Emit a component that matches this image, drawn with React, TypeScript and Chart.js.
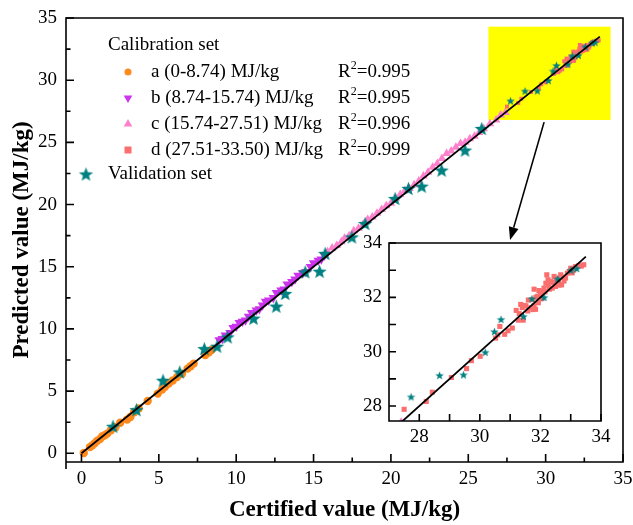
import React, { useEffect, useRef } from 'react';
import { Chart, registerables } from 'chart.js';
Chart.register(...registerables);

const FONT = '"Liberation Serif", "Times New Roman", serif';

// ---- Data ----
const aX = [0.15, 0.55, 0.7, 0.85, 1.0, 1.2, 1.35, 1.5, 1.66, 1.9, 2.2, 2.5, 2.95, 3.16, 3.4, 3.7, 4.28, 4.93, 5.21, 5.4, 5.64, 5.9, 6.18, 6.5, 6.86, 7.05, 7.25, 8.0, 8.22, 8.4];
const aY = [0.02, 0.5, 0.64, 0.8, 0.99, 1.15, 1.37, 1.45, 1.58, 1.85, 2.1, 2.45, 2.71, 2.92, 3.3, 3.6, 4.21, 4.8, 5.12, 5.35, 5.61, 5.85, 6.14, 6.4, 6.81, 7.0, 7.21, 7.9, 8.1, 8.3];

const bX = [8.9, 9.1, 9.3, 9.6, 9.8, 10.0, 10.2, 10.4, 10.6, 10.8, 11.0, 11.3, 11.5, 11.7, 11.9, 12.1, 12.4, 12.6, 12.9, 13.1, 13.3, 13.6, 13.8, 14.0, 14.3, 14.5, 14.8, 15.0, 15.3, 15.5, 15.7];
const bY = [9.1, 9.2, 9.5, 9.7, 10.1, 10.2, 10.5, 10.6, 10.7, 11.0, 11.3, 11.5, 11.6, 11.9, 12.2, 12.3, 12.5, 12.9, 13.1, 13.2, 13.6, 13.8, 14.0, 14.3, 14.5, 14.6, 15.0, 15.3, 15.5, 15.6, 15.9];

const cX = [15.9, 16.2, 16.5, 16.8, 17.0, 17.3, 17.6, 17.9, 18.2, 18.5, 18.8, 19.1, 19.4, 19.7, 20.0, 20.3, 20.6, 20.9, 21.2, 21.5, 21.8, 22.1, 22.4, 22.7, 23.0, 23.3, 23.6, 23.9, 24.2, 24.5, 24.8, 25.1, 25.4, 25.7, 26.0, 26.4, 26.8, 27.1, 27.4];
const cY = [16.2, 16.5, 16.7, 17.0, 17.3, 17.5, 17.9, 18.1, 18.4, 18.8, 19.0, 19.3, 19.6, 19.9, 20.1, 20.5, 20.8, 21.1, 21.3, 21.6, 21.9, 22.3, 22.6, 23.0, 23.3, 23.7, 24.1, 24.3, 24.6, 24.9, 25.0, 25.3, 25.5, 25.8, 26.1, 26.5, 26.8, 27.2, 27.4];

const dX = [27.5, 28.23, 28.43, 29.06, 29.56, 29.72, 30.01, 30.52, 30.59, 30.66, 30.82, 30.93, 31.07, 31.2, 31.27, 31.3, 31.35, 31.4, 31.43, 31.45, 31.52, 31.58, 31.6, 31.69, 31.73, 31.75, 31.79, 31.79, 31.84, 31.85, 31.9, 31.93, 31.95, 32.0, 32.05, 32.07, 32.12, 32.15, 32.18, 32.21, 32.25, 32.26, 32.3, 32.34, 32.39, 32.42, 32.45, 32.5, 32.52, 32.56, 32.6, 32.62, 32.67, 32.7, 32.75, 32.78, 32.83, 32.89, 32.95, 33.0, 33.05, 33.1, 33.16, 33.27, 33.35, 33.43];
const dY = [27.88, 28.17, 28.51, 29.05, 29.38, 29.67, 29.83, 30.5, 30.62, 30.93, 30.64, 30.77, 30.87, 31.52, 31.16, 31.4, 31.74, 31.62, 31.16, 31.7, 31.69, 31.5, 31.9, 31.62, 31.92, 31.55, 32.3, 31.69, 31.56, 32.0, 32.04, 31.8, 32.25, 32.1, 31.95, 32.22, 32.34, 32.2, 32.52, 32.83, 32.65, 32.46, 32.3, 32.58, 32.34, 32.55, 32.77, 32.4, 32.7, 32.65, 32.55, 32.45, 32.83, 32.46, 32.75, 32.6, 32.71, 32.89, 32.95, 33.07, 32.9, 33.0, 33.13, 33.17, 33.15, 33.2];

const vX = [2.04, 3.55, 5.27, 6.35, 7.94, 8.76, 9.45, 11.12, 12.59, 13.17, 14.46, 15.39, 15.75, 17.48, 18.33, 20.27, 21.13, 21.99, 23.28, 24.79, 25.87, 27.73, 28.67, 29.46, 30.18, 30.48, 30.7, 31.44, 31.72, 32.12, 32.57, 33.01, 33.2];
const vY = [2.17, 3.51, 5.87, 6.54, 8.42, 8.61, 9.36, 10.86, 11.83, 12.85, 14.59, 14.64, 16.07, 17.4, 18.48, 20.49, 21.3, 21.48, 22.77, 24.38, 26.12, 28.34, 29.13, 29.15, 29.98, 30.74, 31.19, 31.3, 31.95, 32.0, 32.68, 33.0, 33.06];

const fitX = [0, 33.5];
const fitY = [0, 33.5];

const mainXTicks = [0, 5, 10, 15, 20, 25, 30, 35];
const mainYTicks = [0, 5, 10, 15, 20, 25, 30, 35];
const mainMinor = [2.5, 7.5, 12.5, 17.5, 22.5, 27.5, 32.5];
const insetTicks = [28, 30, 32, 34];
const insetMinor = [29, 31, 33];

const legendTitle = 'Calibration set';
const legendNames = ['a (0-8.74) MJ/kg', 'b (8.74-15.74) MJ/kg', 'c (15.74-27.51) MJ/kg', 'd (27.51-33.50) MJ/kg'];
const legendR2 = ['0.995', '0.995', '0.996', '0.999'];
const validationName = 'Validation set';

const highlightX = [26.3, 34.2];
const highlightY = [26.8, 34.3];
const arrowFrom = { x: 29.9, y: 26.63 };
const arrowTo = { x: 27.7, y: 17.14 };

// ---- Styles ----
const C_A = '#FF8A1C';
const C_B = '#CC33EE';
const C_C = '#FF80CC';
const C_D = '#FA6E6E';
const C_V = '#008080';

const zip = (xs: number[], ys: number[]) => xs.map((x, i) => ({ x, y: ys[i] }));

function makeStar(outer: number, color: string) {
  const inner = outer * 0.42;
  const size = Math.ceil(outer * 2 + 2);
  const c = document.createElement('canvas');
  c.width = size;
  c.height = size;
  const g = c.getContext('2d')!;
  g.fillStyle = color;
  g.beginPath();
  const cx = size / 2, cy = size / 2 + outer * 0.1;
  for (let i = 0; i < 10; i++) {
    const r = i % 2 === 0 ? outer : inner;
    const a = -Math.PI / 2 + (i * Math.PI) / 5;
    const px = cx + r * Math.cos(a), py = cy + r * Math.sin(a);
    if (i === 0) g.moveTo(px, py); else g.lineTo(px, py);
  }
  g.closePath();
  g.fill();
  return c;
}

function framePlugin(cfg: { xMajor: number[]; yMajor: number[]; xMinor: number[]; yMinor: number[]; major: number; minor: number; lw: number; overhang: number; white?: boolean }) {
  return {
    id: 'frame' + Math.random(),
    beforeDatasetsDraw(chart: any) {
      if (!cfg.white) return;
      const { ctx, chartArea: a } = chart;
      ctx.save();
      ctx.fillStyle = '#fff';
      ctx.fillRect(a.left, a.top, a.right - a.left, a.bottom - a.top);
      ctx.restore();
    },
    afterDatasetsDraw(chart: any) {
      const { ctx, chartArea: a } = chart;
      const xs = chart.scales.x, ys = chart.scales.y;
      ctx.save();
      ctx.strokeStyle = '#000';
      ctx.lineWidth = cfg.lw;
      ctx.lineCap = 'butt';
      ctx.beginPath();
      ctx.moveTo(a.left, a.bottom + cfg.overhang);
      ctx.lineTo(a.left, a.top);
      ctx.lineTo(a.right, a.top);
      ctx.lineTo(a.right, a.bottom);
      ctx.lineTo(a.left - cfg.lw / 2, a.bottom);
      ctx.stroke();
      ctx.beginPath();
      for (const v of cfg.xMajor) { const p = xs.getPixelForValue(v); ctx.moveTo(p, a.bottom); ctx.lineTo(p, a.bottom - cfg.major); }
      for (const v of cfg.xMinor) { const p = xs.getPixelForValue(v); ctx.moveTo(p, a.bottom); ctx.lineTo(p, a.bottom - cfg.minor); }
      for (const v of cfg.yMajor) { const p = ys.getPixelForValue(v); ctx.moveTo(a.left, p); ctx.lineTo(a.left + cfg.major, p); }
      for (const v of cfg.yMinor) { const p = ys.getPixelForValue(v); ctx.moveTo(a.left, p); ctx.lineTo(a.left + cfg.minor, p); }
      ctx.stroke();
      ctx.restore();
    },
  };
}

const highlightPlugin = {
  id: 'highlight',
  beforeDatasetsDraw(chart: any) {
    const { ctx } = chart;
    const xs = chart.scales.x, ys = chart.scales.y;
    const x0 = xs.getPixelForValue(highlightX[0]), x1 = xs.getPixelForValue(highlightX[1]);
    const y0 = ys.getPixelForValue(highlightY[1]), y1 = ys.getPixelForValue(highlightY[0]);
    ctx.save();
    ctx.fillStyle = '#FFFF00';
    ctx.fillRect(x0, y0, x1 - x0, y1 - y0);
    ctx.restore();
  },
};

function legendPlugin(bigStar: HTMLCanvasElement) {
  return {
    id: 'customLegend',
    afterDraw(chart: any) {
      const { ctx } = chart;
      const xs = chart.scales.x, ys = chart.scales.y;
      ctx.save();
      // arrow
      const ax0 = xs.getPixelForValue(arrowFrom.x), ay0 = ys.getPixelForValue(arrowFrom.y);
      const ax1 = xs.getPixelForValue(arrowTo.x), ay1 = ys.getPixelForValue(arrowTo.y);
      const ang = Math.atan2(ay1 - ay0, ax1 - ax0);
      const headL = 13, headW = 5;
      const bx = ax1 - headL * Math.cos(ang), by = ay1 - headL * Math.sin(ang);
      ctx.strokeStyle = '#000';
      ctx.lineWidth = 1.6;
      ctx.beginPath();
      ctx.moveTo(ax0, ay0);
      ctx.lineTo(bx, by);
      ctx.stroke();
      ctx.fillStyle = '#000';
      ctx.beginPath();
      ctx.moveTo(ax1, ay1);
      ctx.lineTo(bx + headW * Math.sin(ang), by - headW * Math.cos(ang));
      ctx.lineTo(bx - headW * Math.sin(ang), by + headW * Math.cos(ang));
      ctx.closePath();
      ctx.fill();

      // legend
      ctx.font = `19px ${FONT}`;
      ctx.fillStyle = '#000';
      ctx.textBaseline = 'middle';
      ctx.textAlign = 'left';
      ctx.fillText(legendTitle, 108, 45);
      const rows = [72, 98, 124, 150];
      const colors = [C_A, C_B, C_C, C_D];
      rows.forEach((y, i) => {
        const mx = 128;
        ctx.fillStyle = colors[i];
        ctx.beginPath();
        if (i === 0) {
          ctx.arc(mx, y, 3.5, 0, Math.PI * 2);
        } else if (i === 1) {
          ctx.moveTo(mx - 4.3, y - 2.5); ctx.lineTo(mx + 4.3, y - 2.5); ctx.lineTo(mx, y + 5); ctx.closePath();
        } else if (i === 2) {
          ctx.moveTo(mx - 4.3, y + 2.5); ctx.lineTo(mx + 4.3, y + 2.5); ctx.lineTo(mx, y - 5); ctx.closePath();
        } else {
          ctx.rect(mx - 3.5, y - 3.5, 7, 7);
        }
        ctx.fill();
        ctx.fillStyle = '#000';
        ctx.font = `19px ${FONT}`;
        ctx.fillText(legendNames[i], 151, y);
        let rx = 338;
        ctx.fillText('R', rx, y);
        rx += ctx.measureText('R').width;
        ctx.font = `12px ${FONT}`;
        ctx.fillText('2', rx, y - 6);
        rx += ctx.measureText('2').width;
        ctx.font = `19px ${FONT}`;
        ctx.fillText('=' + legendR2[i], rx, y);
      });
      ctx.drawImage(bigStar, 86 - bigStar.width / 2, 174 - bigStar.height / 2);
      ctx.fillText(validationName, 108, 174);
      ctx.restore();
    },
  };
}

export default function App() {
  const mainRef = useRef<HTMLCanvasElement>(null);
  const insetRef = useRef<HTMLCanvasElement>(null);

  useEffect(() => {
    Chart.defaults.color = '#000';
    const bigStar = makeStar(7.5, C_V);
    const smallStar = makeStar(4.5, C_V);

    const tickFont = { family: FONT, size: 19 };
    const titleFont = { family: FONT, size: 23, weight: 'bold' as const };

    const main = new Chart(mainRef.current!, {
      type: 'scatter',
      data: {
        datasets: [
          { label: 'fit', data: zip(fitX, fitY), showLine: true, borderColor: '#000', borderWidth: 1.8, pointRadius: 0, order: 0 } as any,
          { label: validationName, data: zip(vX, vY), pointStyle: (c: any) => (c.raw && c.raw.x > 27 ? smallStar : bigStar), order: 1 },
          { label: 'd', data: zip(dX, dY), pointStyle: 'rect', pointRadius: 2.8, backgroundColor: C_D, borderColor: C_D, borderWidth: 0, order: 2 },
          { label: 'c', data: zip(cX, cY), pointStyle: 'triangle', pointRadius: 5, backgroundColor: C_C, borderColor: C_C, borderWidth: 0, order: 3 },
          { label: 'b', data: zip(bX, bY), pointStyle: 'triangle', rotation: 180, pointRadius: 5.5, backgroundColor: C_B, borderColor: C_B, borderWidth: 0, order: 4 } as any,
          { label: 'a', data: zip(aX, aY), pointStyle: 'circle', pointRadius: 4.2, backgroundColor: C_A, borderColor: C_A, borderWidth: 0, order: 5 },
        ],
      },
      options: {
        responsive: false,
        animation: false,
        devicePixelRatio: 1,
        layout: { padding: { left: 0, top: 18, right: 10, bottom: 0 } },
        plugins: { legend: { display: false }, tooltip: { enabled: false } },
        scales: {
          x: {
            type: 'linear', min: -1, max: 35,
            afterBuildTicks: (s: any) => { s.ticks = mainXTicks.map((v) => ({ value: v })); },
            afterFit: (s: any) => { s.height = 63; s.paddingLeft = 0; s.paddingRight = 0; },
            grid: { display: false, drawTicks: false },
            border: { display: false },
            ticks: { padding: 6, font: tickFont, color: '#000', maxRotation: 0, autoSkip: false },
            title: { display: true, text: 'Certified value (MJ/kg)', font: titleFont, color: '#000', padding: { top: 0, bottom: 1 } },
          },
          y: {
            type: 'linear', min: -0.7, max: 35,
            afterBuildTicks: (s: any) => { s.ticks = mainYTicks.map((v) => ({ value: v })); },
            afterFit: (s: any) => { s.width = 66; s.paddingTop = 0; s.paddingBottom = 0; },
            grid: { display: false, drawTicks: false },
            border: { display: false },
            ticks: { padding: 9, font: tickFont, color: '#000', autoSkip: false },
            title: { display: true, text: 'Predicted value (MJ/kg)', font: titleFont, color: '#000', padding: { top: 8, bottom: 0 } },
          },
        },
      },
      plugins: [
        highlightPlugin,
        framePlugin({ xMajor: mainXTicks, yMajor: mainYTicks, xMinor: mainMinor, yMinor: mainMinor, major: 8, minor: 4.5, lw: 1.6, overhang: 7 }),
        legendPlugin(bigStar),
      ],
    });

    const inset = new Chart(insetRef.current!, {
      type: 'scatter',
      data: {
        datasets: [
          { label: 'fit', data: zip(fitX, fitY), showLine: true, borderColor: '#000', borderWidth: 1.8, pointRadius: 0, order: 0 } as any,
          { label: validationName, data: zip(vX, vY), pointStyle: smallStar, order: 1 },
          { label: 'd', data: zip(dX, dY), pointStyle: 'rect', pointRadius: 3.6, backgroundColor: C_D, borderColor: C_D, borderWidth: 0, order: 2 },
          { label: 'c', data: zip(cX, cY), pointStyle: 'triangle', pointRadius: 5, backgroundColor: C_C, borderColor: C_C, borderWidth: 0, order: 3 },
        ],
      },
      options: {
        responsive: false,
        animation: false,
        devicePixelRatio: 1,
        layout: { padding: { left: 0, top: 11, right: 14, bottom: 0 } },
        plugins: { legend: { display: false }, tooltip: { enabled: false } },
        scales: {
          x: {
            type: 'linear', min: 27, max: 34,
            afterBuildTicks: (s: any) => { s.ticks = insetTicks.map((v) => ({ value: v })); },
            afterFit: (s: any) => { s.height = 31; s.paddingLeft = 0; s.paddingRight = 0; },
            grid: { display: false, drawTicks: false },
            border: { display: false },
            ticks: { padding: 5, font: tickFont, color: '#000', maxRotation: 0, autoSkip: false },
          },
          y: {
            type: 'linear', min: 27.45, max: 34,
            afterBuildTicks: (s: any) => { s.ticks = insetTicks.map((v) => ({ value: v })); },
            afterFit: (s: any) => { s.width = 39; s.paddingTop = 0; s.paddingBottom = 0; },
            grid: { display: false, drawTicks: false },
            border: { display: false },
            ticks: { padding: 7, font: tickFont, color: '#000', autoSkip: false },
          },
        },
      },
      plugins: [
        framePlugin({ xMajor: insetTicks, yMajor: insetTicks, xMinor: insetMinor, yMinor: insetMinor, major: 7, minor: 7, lw: 1.6, overhang: 0, white: true }),
      ],
    });

    return () => {
      main.destroy();
      inset.destroy();
    };
  }, []);

  return (
    <div style={{ position: 'absolute', left: 0, top: 0, width: 633, height: 525, background: '#fff' }}>
      <canvas ref={mainRef} width={633} height={525} style={{ position: 'absolute', left: 0, top: 0 }} />
      <canvas ref={insetRef} width={265} height={220} style={{ position: 'absolute', left: 350, top: 232 }} />
    </div>
  );
}
